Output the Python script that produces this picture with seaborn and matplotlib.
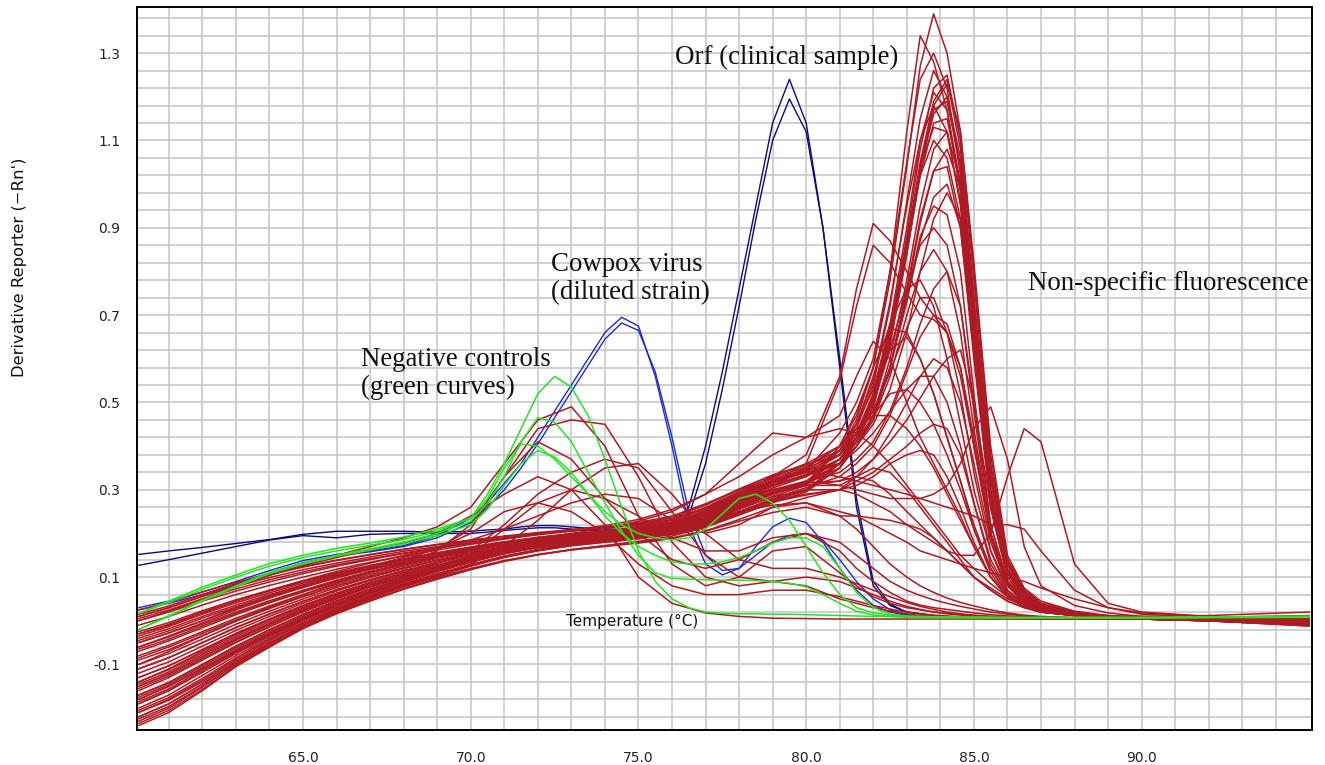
import pandas as pd
import matplotlib
matplotlib.use("Agg")
import matplotlib.pyplot as plt
import seaborn as sns
from matplotlib.ticker import FixedLocator

# temperature grids (deg C)
temps_red = [60.1, 61, 62, 63, 64, 65, 66, 67, 68, 69, 70, 71, 72, 73, 74, 75, 76, 77, 78, 79, 80,
             81, 81.5, 82, 82.5, 83, 83.4, 83.8, 84.2, 84.6, 85, 85.5, 86, 86.5, 87, 88, 89, 90, 92, 95]
temps_fine = [60.1, 61, 62, 63, 64, 65, 66, 67, 68, 69, 70, 70.5, 71, 71.5, 72, 72.5, 73, 73.5, 74, 74.5,
              75, 75.5, 76, 76.5, 77, 77.5, 78, 78.5, 79, 79.5, 80, 80.5, 81, 81.5, 82, 82.5, 83,
              84, 86, 88, 90, 92, 95]

# non-specific fluorescence, tall peaks near 84 C
red_tall = [
    [-0.2, -0.17, -0.125, -0.08, -0.04, 0.0, 0.033, 0.062, 0.088, 0.112, 0.134, 0.153, 0.168, 0.178, 0.186, 0.194, 0.204, 0.224, 0.255, 0.285, 0.31, 0.4, 0.47, 0.58, 0.78, 1.04, 1.27, 1.39, 1.3, 1.12, 0.8, 0.38, 0.14, 0.07, 0.04, 0.02, 0.01, 0.005, 0.003, 0.0],
    [-0.12, -0.094, -0.058, -0.022, 0.01, 0.04, 0.068, 0.092, 0.113, 0.133, 0.151, 0.167, 0.18, 0.189, 0.195, 0.203, 0.213, 0.236, 0.27, 0.31, 0.345, 0.43, 0.5, 0.6, 0.8, 1.12, 1.34, 1.28, 1.17, 0.98, 0.62, 0.27, 0.11, 0.055, 0.035, 0.018, 0.01, 0.005, 0.002, 0.0],
    [-0.16, -0.13, -0.09, -0.05, -0.014, 0.02, 0.05, 0.077, 0.1, 0.122, 0.142, 0.16, 0.174, 0.183, 0.19, 0.198, 0.208, 0.23, 0.262, 0.292, 0.318, 0.39, 0.46, 0.58, 0.8, 1.05, 1.24, 1.3, 1.22, 1.02, 0.7, 0.3, 0.12, 0.06, 0.035, 0.02, 0.01, 0.005, 0.002, -0.002],
    [-0.08, -0.056, -0.025, 0.006, 0.034, 0.06, 0.084, 0.106, 0.125, 0.143, 0.159, 0.173, 0.185, 0.193, 0.2, 0.208, 0.219, 0.244, 0.278, 0.308, 0.334, 0.38, 0.44, 0.54, 0.72, 0.96, 1.15, 1.26, 1.2, 1.04, 0.68, 0.3, 0.12, 0.06, 0.035, 0.02, 0.01, 0.006, 0.003, 0.001],
    [-0.22, -0.19, -0.145, -0.095, -0.052, -0.01, 0.025, 0.055, 0.082, 0.106, 0.128, 0.148, 0.163, 0.174, 0.182, 0.19, 0.2, 0.218, 0.248, 0.278, 0.3, 0.36, 0.42, 0.5, 0.66, 0.88, 1.08, 1.22, 1.25, 1.1, 0.78, 0.36, 0.14, 0.07, 0.04, 0.02, 0.01, 0.005, 0.002, -0.005],
    [0.0, 0.02, 0.045, 0.068, 0.089, 0.108, 0.125, 0.14, 0.154, 0.166, 0.178, 0.188, 0.197, 0.205, 0.212, 0.22, 0.232, 0.26, 0.296, 0.328, 0.352, 0.4, 0.45, 0.53, 0.67, 0.86, 1.04, 1.18, 1.23, 1.12, 0.82, 0.4, 0.15, 0.075, 0.045, 0.022, 0.012, 0.006, 0.003, 0.001],
    [-0.14, -0.112, -0.074, -0.036, -0.002, 0.03, 0.059, 0.085, 0.107, 0.128, 0.147, 0.164, 0.177, 0.186, 0.193, 0.2, 0.21, 0.233, 0.266, 0.296, 0.32, 0.37, 0.43, 0.52, 0.68, 0.9, 1.1, 1.21, 1.17, 1.0, 0.66, 0.28, 0.11, 0.055, 0.032, 0.018, 0.01, 0.005, 0.002, 0.0],
    [-0.18, -0.15, -0.108, -0.066, -0.028, 0.008, 0.04, 0.068, 0.094, 0.117, 0.138, 0.157, 0.171, 0.181, 0.188, 0.196, 0.206, 0.228, 0.26, 0.29, 0.315, 0.36, 0.41, 0.49, 0.63, 0.84, 1.03, 1.17, 1.19, 1.04, 0.72, 0.32, 0.13, 0.065, 0.038, 0.02, 0.01, 0.005, 0.002, -0.008],
    [-0.04, -0.018, 0.01, 0.036, 0.06, 0.082, 0.103, 0.121, 0.138, 0.154, 0.168, 0.18, 0.191, 0.199, 0.206, 0.214, 0.226, 0.252, 0.287, 0.318, 0.342, 0.38, 0.43, 0.5, 0.64, 0.84, 1.02, 1.14, 1.15, 1.0, 0.66, 0.29, 0.115, 0.06, 0.035, 0.02, 0.01, 0.006, 0.003, 0.002],
    [-0.24, -0.21, -0.16, -0.105, -0.06, -0.015, 0.02, 0.05, 0.078, 0.102, 0.125, 0.145, 0.16, 0.172, 0.18, 0.188, 0.198, 0.215, 0.245, 0.275, 0.3, 0.35, 0.4, 0.47, 0.6, 0.78, 0.95, 1.08, 1.12, 1.0, 0.7, 0.32, 0.13, 0.065, 0.038, 0.02, 0.01, 0.005, 0.0, -0.012],
    [-0.1, -0.075, -0.042, -0.008, 0.022, 0.05, 0.076, 0.099, 0.119, 0.138, 0.155, 0.17, 0.182, 0.191, 0.197, 0.205, 0.216, 0.24, 0.274, 0.304, 0.33, 0.37, 0.41, 0.47, 0.58, 0.75, 0.91, 1.03, 1.08, 0.99, 0.72, 0.34, 0.14, 0.07, 0.04, 0.02, 0.01, 0.006, 0.003, 0.001],
    [-0.21, -0.182, -0.14, -0.092, -0.05, -0.01, 0.024, 0.052, 0.078, 0.1, 0.12, 0.138, 0.152, 0.163, 0.172, 0.182, 0.194, 0.214, 0.242, 0.27, 0.295, 0.35, 0.4, 0.46, 0.58, 0.76, 0.92, 1.03, 1.04, 0.9, 0.6, 0.26, 0.1, 0.05, 0.03, 0.016, 0.008, 0.004, 0.0, -0.01],
    [0.025, 0.042, 0.066, 0.088, 0.107, 0.124, 0.139, 0.152, 0.164, 0.175, 0.185, 0.194, 0.202, 0.209, 0.215, 0.223, 0.236, 0.265, 0.3, 0.333, 0.356, 0.39, 0.43, 0.48, 0.58, 0.73, 0.87, 0.97, 1.0, 0.9, 0.62, 0.28, 0.11, 0.055, 0.032, 0.018, 0.012, 0.01, 0.012, 0.02],
    [-0.17, -0.142, -0.1, -0.058, -0.02, 0.015, 0.046, 0.073, 0.097, 0.12, 0.14, 0.158, 0.173, 0.184, 0.193, 0.203, 0.214, 0.236, 0.266, 0.294, 0.318, 0.36, 0.4, 0.47, 0.58, 0.74, 0.88, 0.95, 0.93, 0.8, 0.52, 0.22, 0.09, 0.045, 0.028, 0.015, 0.008, 0.004, 0.002, 0.0],
    [-0.06, -0.037, -0.008, 0.02, 0.046, 0.07, 0.093, 0.113, 0.131, 0.148, 0.163, 0.176, 0.188, 0.196, 0.203, 0.211, 0.222, 0.25, 0.29, 0.33, 0.38, 0.56, 0.76, 0.91, 0.87, 0.8, 0.74, 0.7, 0.66, 0.56, 0.4, 0.2, 0.09, 0.05, 0.03, 0.018, 0.01, 0.006, 0.003, 0.001],
    [-0.19, -0.16, -0.117, -0.073, -0.034, 0.003, 0.036, 0.064, 0.09, 0.114, 0.136, 0.155, 0.17, 0.18, 0.188, 0.197, 0.21, 0.236, 0.274, 0.318, 0.36, 0.55, 0.72, 0.86, 0.82, 0.75, 0.7, 0.69, 0.66, 0.58, 0.42, 0.2, 0.09, 0.05, 0.03, 0.018, 0.01, 0.005, 0.002, 0.0],
    [-0.13, -0.103, -0.066, -0.029, 0.004, 0.035, 0.063, 0.087, 0.108, 0.128, 0.146, 0.162, 0.175, 0.184, 0.19, 0.198, 0.208, 0.23, 0.262, 0.292, 0.318, 0.37, 0.42, 0.5, 0.65, 0.86, 1.05, 1.19, 1.24, 1.08, 0.74, 0.33, 0.13, 0.065, 0.038, 0.02, 0.01, 0.005, 0.002, 0.0],
    [-0.07, -0.046, -0.016, 0.014, 0.041, 0.066, 0.089, 0.11, 0.128, 0.145, 0.16, 0.174, 0.186, 0.196, 0.205, 0.216, 0.23, 0.258, 0.293, 0.322, 0.345, 0.39, 0.45, 0.55, 0.73, 0.95, 1.1, 1.18, 1.12, 0.95, 0.62, 0.26, 0.1, 0.05, 0.03, 0.017, 0.009, 0.005, 0.002, 0.0],
    [-0.23, -0.2, -0.152, -0.1, -0.055, -0.012, 0.022, 0.052, 0.08, 0.104, 0.126, 0.146, 0.161, 0.172, 0.18, 0.188, 0.198, 0.216, 0.245, 0.275, 0.298, 0.36, 0.42, 0.51, 0.67, 0.87, 1.02, 1.1, 1.06, 0.92, 0.62, 0.27, 0.11, 0.055, 0.033, 0.018, 0.01, 0.005, 0.001, -0.006],
    [-0.03, -0.008, 0.02, 0.045, 0.068, 0.089, 0.108, 0.125, 0.14, 0.155, 0.168, 0.179, 0.189, 0.197, 0.203, 0.211, 0.222, 0.246, 0.28, 0.31, 0.335, 0.36, 0.4, 0.45, 0.53, 0.66, 0.8, 0.92, 0.98, 0.92, 0.7, 0.34, 0.14, 0.07, 0.04, 0.02, 0.01, 0.006, 0.003, 0.002],
    [0.01, 0.03, 0.056, 0.079, 0.099, 0.117, 0.132, 0.146, 0.159, 0.17, 0.181, 0.19, 0.199, 0.206, 0.212, 0.219, 0.23, 0.256, 0.29, 0.32, 0.342, 0.38, 0.43, 0.51, 0.66, 0.87, 1.04, 1.13, 1.12, 0.96, 0.64, 0.28, 0.11, 0.055, 0.033, 0.018, 0.01, 0.006, 0.004, 0.003],
    [-0.155, -0.126, -0.087, -0.048, -0.013, 0.021, 0.051, 0.078, 0.101, 0.122, 0.141, 0.158, 0.171, 0.181, 0.188, 0.196, 0.207, 0.23, 0.262, 0.29, 0.312, 0.36, 0.41, 0.49, 0.64, 0.85, 1.04, 1.16, 1.2, 1.06, 0.74, 0.34, 0.13, 0.065, 0.038, 0.02, 0.01, 0.005, 0.002, -0.003],
]

# non-specific fluorescence, medium peaks 81-85 C
red_mid = [
    [-0.11, -0.085, -0.05, -0.015, 0.016, 0.045, 0.071, 0.094, 0.114, 0.133, 0.15, 0.165, 0.178, 0.188, 0.196, 0.206, 0.22, 0.248, 0.283, 0.31, 0.332, 0.36, 0.4, 0.46, 0.56, 0.7, 0.8, 0.85, 0.8, 0.66, 0.44, 0.2, 0.085, 0.045, 0.028, 0.016, 0.009, 0.005, 0.002, 0.0],
    [-0.19, -0.16, -0.118, -0.075, -0.036, 0.002, 0.035, 0.064, 0.09, 0.113, 0.135, 0.154, 0.169, 0.18, 0.19, 0.2, 0.215, 0.243, 0.28, 0.32, 0.35, 0.38, 0.45, 0.56, 0.68, 0.76, 0.78, 0.72, 0.6, 0.45, 0.3, 0.16, 0.08, 0.045, 0.028, 0.015, 0.008, 0.004, 0.001, -0.008],
    [0.015, 0.034, 0.06, 0.084, 0.105, 0.123, 0.138, 0.151, 0.163, 0.174, 0.184, 0.193, 0.2, 0.207, 0.213, 0.222, 0.236, 0.266, 0.302, 0.334, 0.358, 0.38, 0.42, 0.48, 0.57, 0.67, 0.74, 0.74, 0.66, 0.52, 0.34, 0.16, 0.07, 0.04, 0.025, 0.014, 0.008, 0.006, 0.008, 0.012],
    [-0.15, -0.122, -0.083, -0.044, -0.009, 0.024, 0.053, 0.079, 0.101, 0.121, 0.139, 0.155, 0.167, 0.176, 0.183, 0.19, 0.2, 0.22, 0.25, 0.28, 0.305, 0.33, 0.36, 0.4, 0.47, 0.57, 0.65, 0.7, 0.68, 0.58, 0.4, 0.19, 0.08, 0.042, 0.026, 0.014, 0.008, 0.004, 0.001, -0.004],
    [-0.05, -0.028, 0.0, 0.028, 0.053, 0.076, 0.098, 0.117, 0.134, 0.15, 0.165, 0.178, 0.19, 0.2, 0.212, 0.228, 0.25, 0.29, 0.36, 0.43, 0.42, 0.47, 0.56, 0.64, 0.6, 0.5, 0.42, 0.36, 0.3, 0.24, 0.17, 0.1, 0.055, 0.032, 0.02, 0.012, 0.007, 0.004, 0.002, 0.0],
    [-0.235, -0.205, -0.157, -0.104, -0.06, -0.018, 0.016, 0.045, 0.072, 0.095, 0.117, 0.136, 0.151, 0.163, 0.172, 0.18, 0.19, 0.206, 0.232, 0.26, 0.282, 0.3, 0.33, 0.37, 0.43, 0.5, 0.56, 0.6, 0.58, 0.5, 0.36, 0.18, 0.08, 0.042, 0.026, 0.014, 0.008, 0.004, 0.0, -0.01],
    [-0.11, -0.084, -0.05, -0.016, 0.015, 0.044, 0.071, 0.094, 0.115, 0.134, 0.152, 0.168, 0.182, 0.193, 0.202, 0.212, 0.225, 0.25, 0.285, 0.315, 0.34, 0.36, 0.41, 0.47, 0.52, 0.53, 0.5, 0.45, 0.38, 0.3, 0.21, 0.12, 0.06, 0.035, 0.022, 0.012, 0.007, 0.004, 0.001, -0.003],
    [-0.17, -0.141, -0.1, -0.058, -0.021, 0.014, 0.045, 0.072, 0.097, 0.119, 0.139, 0.157, 0.171, 0.182, 0.192, 0.205, 0.222, 0.252, 0.29, 0.33, 0.36, 0.4, 0.44, 0.47, 0.47, 0.44, 0.4, 0.35, 0.29, 0.23, 0.17, 0.1, 0.055, 0.032, 0.02, 0.012, 0.007, 0.004, 0.0, -0.006],
    [-0.01, 0.01, 0.036, 0.06, 0.081, 0.1, 0.118, 0.134, 0.148, 0.162, 0.175, 0.187, 0.198, 0.208, 0.218, 0.232, 0.255, 0.29, 0.33, 0.38, 0.42, 0.44, 0.43, 0.4, 0.36, 0.31, 0.27, 0.23, 0.19, 0.15, 0.12, 0.085, 0.055, 0.035, 0.024, 0.014, 0.008, 0.005, 0.003, 0.002],
    [-0.13, -0.103, -0.066, -0.029, 0.004, 0.035, 0.063, 0.087, 0.108, 0.127, 0.144, 0.159, 0.171, 0.18, 0.186, 0.193, 0.203, 0.222, 0.25, 0.275, 0.29, 0.3, 0.31, 0.33, 0.36, 0.38, 0.39, 0.38, 0.33, 0.26, 0.18, 0.1, 0.055, 0.032, 0.02, 0.012, 0.007, 0.004, 0.001, -0.002],
    [-0.035, -0.013, 0.015, 0.041, 0.064, 0.086, 0.106, 0.124, 0.14, 0.155, 0.168, 0.18, 0.19, 0.198, 0.204, 0.212, 0.225, 0.25, 0.28, 0.3, 0.31, 0.32, 0.33, 0.32, 0.29, 0.25, 0.22, 0.19, 0.16, 0.13, 0.1, 0.07, 0.045, 0.03, 0.02, 0.012, 0.007, 0.004, 0.002, 0.0],
    [-0.21, -0.18, -0.136, -0.088, -0.046, -0.006, 0.028, 0.057, 0.083, 0.106, 0.127, 0.146, 0.161, 0.173, 0.183, 0.193, 0.205, 0.226, 0.258, 0.29, 0.315, 0.35, 0.42, 0.52, 0.62, 0.65, 0.6, 0.52, 0.42, 0.32, 0.22, 0.12, 0.06, 0.035, 0.022, 0.012, 0.007, 0.004, 0.0, -0.01],
    [0.005, 0.025, 0.05, 0.073, 0.094, 0.112, 0.128, 0.142, 0.155, 0.167, 0.178, 0.188, 0.198, 0.207, 0.215, 0.225, 0.24, 0.268, 0.3, 0.325, 0.345, 0.36, 0.39, 0.43, 0.48, 0.53, 0.56, 0.56, 0.5, 0.4, 0.27, 0.13, 0.065, 0.038, 0.024, 0.014, 0.008, 0.005, 0.006, 0.01],
    [-0.09, -0.066, -0.034, -0.001, 0.028, 0.055, 0.08, 0.102, 0.121, 0.139, 0.155, 0.169, 0.18, 0.188, 0.194, 0.2, 0.21, 0.232, 0.264, 0.293, 0.318, 0.34, 0.37, 0.41, 0.48, 0.58, 0.68, 0.76, 0.8, 0.72, 0.5, 0.22, 0.09, 0.048, 0.03, 0.017, 0.009, 0.005, 0.002, 0.0],
    [-0.225, -0.196, -0.15, -0.1, -0.058, -0.016, 0.018, 0.047, 0.074, 0.097, 0.118, 0.137, 0.151, 0.162, 0.17, 0.178, 0.188, 0.205, 0.228, 0.248, 0.26, 0.24, 0.24, 0.235, 0.23, 0.22, 0.21, 0.19, 0.16, 0.13, 0.1, 0.075, 0.05, 0.035, 0.025, 0.015, 0.009, 0.005, 0.0, -0.012],
    [-0.065, -0.042, -0.012, 0.017, 0.043, 0.068, 0.091, 0.111, 0.129, 0.146, 0.161, 0.174, 0.186, 0.195, 0.202, 0.21, 0.221, 0.246, 0.28, 0.31, 0.335, 0.37, 0.42, 0.5, 0.62, 0.76, 0.86, 0.9, 0.86, 0.72, 0.48, 0.2, 0.085, 0.045, 0.028, 0.016, 0.009, 0.005, 0.002, 0.0],
    [-0.205, -0.176, -0.132, -0.085, -0.043, -0.004, 0.03, 0.059, 0.085, 0.108, 0.129, 0.148, 0.163, 0.175, 0.185, 0.196, 0.21, 0.236, 0.275, 0.315, 0.35, 0.4, 0.48, 0.58, 0.67, 0.66, 0.6, 0.52, 0.42, 0.32, 0.21, 0.11, 0.055, 0.032, 0.02, 0.012, 0.007, 0.004, 0.0, -0.01],
    [-0.145, -0.117, -0.078, -0.04, -0.006, 0.027, 0.056, 0.082, 0.104, 0.124, 0.142, 0.158, 0.171, 0.18, 0.187, 0.194, 0.203, 0.222, 0.25, 0.272, 0.288, 0.3, 0.32, 0.34, 0.37, 0.4, 0.43, 0.45, 0.44, 0.38, 0.27, 0.14, 0.07, 0.04, 0.025, 0.014, 0.008, 0.004, 0.001, -0.004],
    [-0.045, -0.023, 0.006, 0.032, 0.056, 0.079, 0.1, 0.118, 0.135, 0.151, 0.165, 0.177, 0.188, 0.196, 0.203, 0.21, 0.22, 0.243, 0.274, 0.3, 0.315, 0.32, 0.34, 0.37, 0.41, 0.46, 0.51, 0.56, 0.6, 0.62, 0.5, 0.26, 0.1, 0.05, 0.03, 0.017, 0.009, 0.005, 0.002, 0.0],
    [-0.185, -0.156, -0.113, -0.07, -0.031, 0.005, 0.037, 0.065, 0.091, 0.115, 0.136, 0.155, 0.17, 0.181, 0.19, 0.2, 0.213, 0.238, 0.27, 0.295, 0.31, 0.31, 0.33, 0.35, 0.34, 0.3, 0.26, 0.22, 0.18, 0.14, 0.1, 0.07, 0.045, 0.03, 0.02, 0.012, 0.007, 0.004, 0.0, -0.008],
]

# wells with an early bump near 72-75 C
red_early = [
    [0.0, 0.022, 0.05, 0.078, 0.104, 0.128, 0.15, 0.17, 0.19, 0.215, 0.26, 0.36, 0.46, 0.49, 0.4, 0.24, 0.13, 0.08, 0.1, 0.16, 0.17, 0.11, 0.08, 0.055, 0.04, 0.03, 0.025, 0.02, 0.017, 0.014, 0.012, 0.01, 0.008, 0.007, 0.006, 0.005, 0.005, 0.005, 0.005, 0.006],
    [-0.06, -0.035, -0.005, 0.025, 0.052, 0.078, 0.1, 0.12, 0.14, 0.165, 0.21, 0.33, 0.44, 0.46, 0.45, 0.33, 0.18, 0.1, 0.08, 0.09, 0.08, 0.05, 0.04, 0.03, 0.022, 0.016, 0.012, 0.01, 0.008, 0.007, 0.006, 0.005, 0.005, 0.004, 0.004, 0.004, 0.004, 0.004, 0.004, 0.005],
    [-0.1, -0.07, -0.035, 0.0, 0.032, 0.06, 0.087, 0.11, 0.133, 0.16, 0.22, 0.33, 0.41, 0.37, 0.28, 0.2, 0.14, 0.12, 0.14, 0.18, 0.2, 0.16, 0.12, 0.09, 0.065, 0.045, 0.036, 0.03, 0.026, 0.022, 0.018, 0.014, 0.011, 0.009, 0.008, 0.006, 0.005, 0.005, 0.005, 0.005],
    [-0.14, -0.11, -0.07, -0.032, 0.002, 0.033, 0.062, 0.088, 0.11, 0.132, 0.16, 0.22, 0.29, 0.34, 0.37, 0.35, 0.25, 0.15, 0.1, 0.09, 0.1, 0.09, 0.075, 0.06, 0.045, 0.033, 0.026, 0.02, 0.016, 0.013, 0.011, 0.009, 0.007, 0.006, 0.005, 0.005, 0.005, 0.005, 0.005, 0.006],
    [0.01, 0.03, 0.056, 0.082, 0.105, 0.126, 0.145, 0.162, 0.178, 0.2, 0.24, 0.29, 0.33, 0.3, 0.22, 0.1, 0.04, 0.018, 0.01, 0.006, 0.005, 0.004, 0.004, 0.004, 0.004, 0.004, 0.004, 0.004, 0.004, 0.004, 0.004, 0.004, 0.004, 0.004, 0.004, 0.004, 0.004, 0.004, 0.005, 0.006],
    [-0.18, -0.15, -0.11, -0.068, -0.03, 0.005, 0.038, 0.066, 0.092, 0.118, 0.15, 0.21, 0.27, 0.3, 0.28, 0.24, 0.19, 0.16, 0.16, 0.19, 0.2, 0.18, 0.15, 0.12, 0.09, 0.07, 0.058, 0.048, 0.04, 0.033, 0.027, 0.02, 0.015, 0.011, 0.009, 0.007, 0.005, 0.004, 0.002, 0.0],
    [-0.03, -0.01, 0.018, 0.045, 0.07, 0.092, 0.113, 0.132, 0.15, 0.167, 0.185, 0.21, 0.24, 0.27, 0.29, 0.28, 0.23, 0.2, 0.22, 0.26, 0.27, 0.24, 0.21, 0.17, 0.13, 0.1, 0.08, 0.065, 0.052, 0.042, 0.034, 0.025, 0.018, 0.013, 0.01, 0.007, 0.005, 0.004, 0.003, 0.002],
    [-0.22, -0.19, -0.145, -0.096, -0.052, -0.01, 0.025, 0.055, 0.082, 0.106, 0.13, 0.17, 0.23, 0.3, 0.35, 0.36, 0.29, 0.2, 0.14, 0.12, 0.12, 0.1, 0.085, 0.07, 0.055, 0.042, 0.033, 0.026, 0.02, 0.016, 0.013, 0.01, 0.008, 0.006, 0.005, 0.004, 0.004, 0.004, 0.002, 0.0],
    [-0.05, -0.028, 0.0, 0.03, 0.057, 0.082, 0.105, 0.125, 0.145, 0.165, 0.2, 0.25, 0.27, 0.25, 0.2, 0.13, 0.08, 0.06, 0.06, 0.07, 0.07, 0.055, 0.045, 0.035, 0.027, 0.02, 0.016, 0.013, 0.011, 0.009, 0.008, 0.007, 0.006, 0.005, 0.005, 0.004, 0.004, 0.004, 0.004, 0.005],
]

# wells peaking late, 85-87 C
red_late = [
    [-0.085, -0.06, -0.029, 0.002, 0.03, 0.056, 0.08, 0.102, 0.121, 0.139, 0.155, 0.169, 0.181, 0.19, 0.197, 0.205, 0.215, 0.238, 0.27, 0.3, 0.32, 0.31, 0.3, 0.29, 0.28, 0.28, 0.28, 0.29, 0.31, 0.36, 0.44, 0.49, 0.37, 0.17, 0.08, 0.035, 0.018, 0.01, 0.006, 0.004],
    [-0.15, -0.121, -0.082, -0.043, -0.008, 0.025, 0.054, 0.08, 0.102, 0.122, 0.14, 0.156, 0.169, 0.178, 0.185, 0.192, 0.202, 0.224, 0.256, 0.284, 0.3, 0.3, 0.29, 0.27, 0.25, 0.22, 0.2, 0.18, 0.16, 0.15, 0.15, 0.2, 0.33, 0.44, 0.41, 0.13, 0.04, 0.02, 0.01, 0.006],
    [-0.025, -0.004, 0.023, 0.048, 0.07, 0.091, 0.11, 0.127, 0.142, 0.156, 0.169, 0.181, 0.191, 0.199, 0.206, 0.214, 0.226, 0.252, 0.29, 0.32, 0.34, 0.33, 0.32, 0.31, 0.3, 0.29, 0.28, 0.27, 0.26, 0.25, 0.24, 0.22, 0.22, 0.21, 0.16, 0.07, 0.03, 0.015, 0.008, 0.005],
    [-0.175, -0.146, -0.104, -0.062, -0.025, 0.011, 0.043, 0.071, 0.096, 0.119, 0.14, 0.158, 0.172, 0.182, 0.19, 0.198, 0.21, 0.228, 0.25, 0.265, 0.27, 0.25, 0.24, 0.22, 0.2, 0.18, 0.16, 0.15, 0.14, 0.13, 0.12, 0.11, 0.1, 0.09, 0.075, 0.05, 0.03, 0.018, 0.01, 0.006],
]

# negative controls
green_neg = [
    [0.017, 0.045, 0.077, 0.105, 0.131, 0.15, 0.166, 0.178, 0.192, 0.21, 0.235, 0.29, 0.36, 0.44, 0.52, 0.56, 0.535, 0.47, 0.37, 0.26, 0.16, 0.09, 0.05, 0.03, 0.02, 0.017, 0.016, 0.016, 0.015, 0.015, 0.014, 0.013, 0.012, 0.011, 0.01, 0.01, 0.009, 0.008, 0.007, 0.007, 0.007, 0.008, 0.01],
    [-0.02, 0.012, 0.047, 0.08, 0.111, 0.132, 0.15, 0.165, 0.18, 0.2, 0.228, 0.27, 0.33, 0.41, 0.465, 0.455, 0.41, 0.34, 0.27, 0.205, 0.15, 0.11, 0.097, 0.095, 0.094, 0.093, 0.093, 0.092, 0.09, 0.086, 0.078, 0.06, 0.04, 0.022, 0.013, 0.01, 0.008, 0.007, 0.006, 0.006, 0.006, 0.007, 0.008],
    [0.017, 0.042, 0.072, 0.1, 0.125, 0.145, 0.16, 0.173, 0.186, 0.205, 0.235, 0.28, 0.35, 0.405, 0.4, 0.37, 0.33, 0.29, 0.25, 0.22, 0.2, 0.19, 0.185, 0.19, 0.21, 0.245, 0.28, 0.29, 0.27, 0.23, 0.17, 0.11, 0.06, 0.03, 0.018, 0.013, 0.011, 0.009, 0.008, 0.008, 0.008, 0.009, 0.01],
    [-0.02, 0.01, 0.045, 0.078, 0.108, 0.13, 0.148, 0.162, 0.176, 0.195, 0.22, 0.255, 0.31, 0.36, 0.39, 0.375, 0.34, 0.29, 0.24, 0.2, 0.17, 0.15, 0.135, 0.13, 0.13, 0.135, 0.145, 0.16, 0.178, 0.19, 0.19, 0.17, 0.12, 0.065, 0.03, 0.015, 0.01, 0.008, 0.007, 0.007, 0.007, 0.008, 0.01],
]

# cowpox virus (diluted strain)
cowpox = [
    [0.03, 0.045, 0.066, 0.09, 0.115, 0.138, 0.152, 0.16, 0.172, 0.195, 0.235, 0.27, 0.315, 0.36, 0.42, 0.48, 0.54, 0.6, 0.66, 0.695, 0.675, 0.56, 0.4, 0.22, 0.13, 0.105, 0.12, 0.17, 0.215, 0.235, 0.225, 0.18, 0.12, 0.07, 0.035, 0.02, 0.012, 0.008, 0.006, 0.005, 0.005, 0.005, 0.005],
    [0.025, 0.04, 0.06, 0.085, 0.11, 0.133, 0.148, 0.158, 0.17, 0.19, 0.225, 0.26, 0.3, 0.35, 0.405, 0.465, 0.525, 0.585, 0.645, 0.682, 0.665, 0.57, 0.42, 0.25, 0.15, 0.115, 0.12, 0.15, 0.18, 0.195, 0.2, 0.185, 0.14, 0.09, 0.05, 0.025, 0.014, 0.008, 0.006, 0.005, 0.005, 0.005, 0.005],
]

# Orf (clinical sample)
orf = [
    [0.152, 0.16, 0.168, 0.177, 0.186, 0.198, 0.205, 0.205, 0.205, 0.203, 0.205, 0.208, 0.21, 0.215, 0.218, 0.218, 0.215, 0.212, 0.21, 0.21, 0.212, 0.215, 0.222, 0.26, 0.4, 0.57, 0.76, 0.95, 1.14, 1.24, 1.14, 0.9, 0.58, 0.26, 0.08, 0.035, 0.02, 0.01, 0.006, 0.005, 0.005, 0.005, 0.005],
    [0.127, 0.14, 0.155, 0.17, 0.185, 0.195, 0.19, 0.198, 0.2, 0.2, 0.2, 0.203, 0.207, 0.21, 0.213, 0.213, 0.21, 0.207, 0.205, 0.205, 0.207, 0.21, 0.215, 0.24, 0.36, 0.53, 0.72, 0.92, 1.1, 1.195, 1.12, 0.9, 0.6, 0.28, 0.09, 0.038, 0.02, 0.01, 0.006, 0.005, 0.005, 0.005, 0.005],
]

x_major = [65, 70, 75, 80, 85, 90]
x_major_labels = ["65.0", "70.0", "75.0", "80.0", "85.0", "90.0"]
y_major = [-0.1, 0.1, 0.3, 0.5, 0.7, 0.9, 1.1, 1.3]
y_major_labels = ["-0.1", "0.1", "0.3", "0.5", "0.7", "0.9", "1.1", "1.3"]


def long_form(temps, curves, name):
    rows = []
    for i, vals in enumerate(curves):
        assert len(vals) == len(temps), (name, i, len(vals))
        for t, v in zip(temps, vals):
            rows.append({"temp": t, "value": v, "well": f"{name}{i}"})
    return pd.DataFrame(rows)


sns.set_style("white")
plt.rcParams["font.family"] = ["DejaVu Sans"]

W, H = 1325, 765
fig = plt.figure(figsize=(W / 100, H / 100), dpi=100)
# axes box in pixels: left 137, right 1312, top 7.3, bottom 729.5
ax = fig.add_axes([137 / W, (H - 729.5) / H, 1175 / W, 722.2 / H])

RED = "#ae1a23"
layers = [
    (temps_fine, cowpox, "cow", "#1a2bd6", 1.0),
    (temps_fine, orf, "orf", "#0b0b7a", 1.0),
    (temps_red, red_tall, "rt", RED, 1.1),
    (temps_red, red_mid, "rm", RED, 1.1),
    (temps_red, red_early, "re", RED, 1.1),
    (temps_red, red_late, "rl", RED, 1.1),
    (temps_fine, green_neg, "neg", "#22e622", 1.1),
]
for temps, curves, name, col, lw in layers:
    df = long_form(temps, curves, name)
    sns.lineplot(data=df, x="temp", y="value", units="well", estimator=None,
                 sort=False, color=col, lw=lw, legend=False, ax=ax)

ax.set_xlim(60.05, 95.08)
ax.set_ylim(-0.249, 1.405)

ax.set_xticks(x_major)
ax.set_xticklabels(x_major_labels)
ax.xaxis.set_minor_locator(FixedLocator([t for t in range(61, 95) if t % 5 != 0]))
ax.set_yticks(y_major)
ax.set_yticklabels(y_major_labels)
ax.yaxis.set_minor_locator(FixedLocator([round(-0.22 + 0.04 * k, 2) for k in range(41)]))

ax.grid(True, which="both", color="#c8c8c8", lw=1.2)
ax.set_axisbelow(True)
ax.tick_params(axis="x", which="both", length=5, width=1, color="#8c8c8c",
               labelsize=10, pad=10.5, labelcolor="#222222")
ax.tick_params(axis="y", which="major", length=8.5, width=1, color="#8c8c8c",
               labelsize=10, pad=3.5, labelcolor="#222222")
ax.tick_params(axis="y", which="minor", length=5, width=1, color="#8c8c8c")
for s in ax.spines.values():
    s.set_visible(True)
    s.set_color("black")
    s.set_linewidth(1.4)

ax.set_xlabel("Temperature (\u00b0C)", fontsize=11, color="#111111")
ax.xaxis.label.set_va("center")
ax.xaxis.set_label_coords(0.4217, 0.149)
ax.set_ylabel("Derivative Reporter (\u2212Rn')", fontsize=11.8, color="#111111")
ax.yaxis.set_label_coords(-0.094, 0.64)

serif = dict(family="Liberation Serif", fontsize=19.4, color="#111111",
             ha="left", va="center", transform=fig.transFigure)
fig.text(675 / W, 1 - 57 / H, "Orf (clinical sample)", **serif)
fig.text(551 / W, 1 - 278.5 / H, "Cowpox virus\n(diluted strain)", linespacing=1.2, **serif)
fig.text(361 / W, 1 - 373.5 / H, "Negative controls\n(green curves)", linespacing=1.2, **serif)
fig.text(1028 / W, 1 - 283 / H, "Non-specific fluorescence", **serif)

fig.savefig("out.png", dpi=100)
